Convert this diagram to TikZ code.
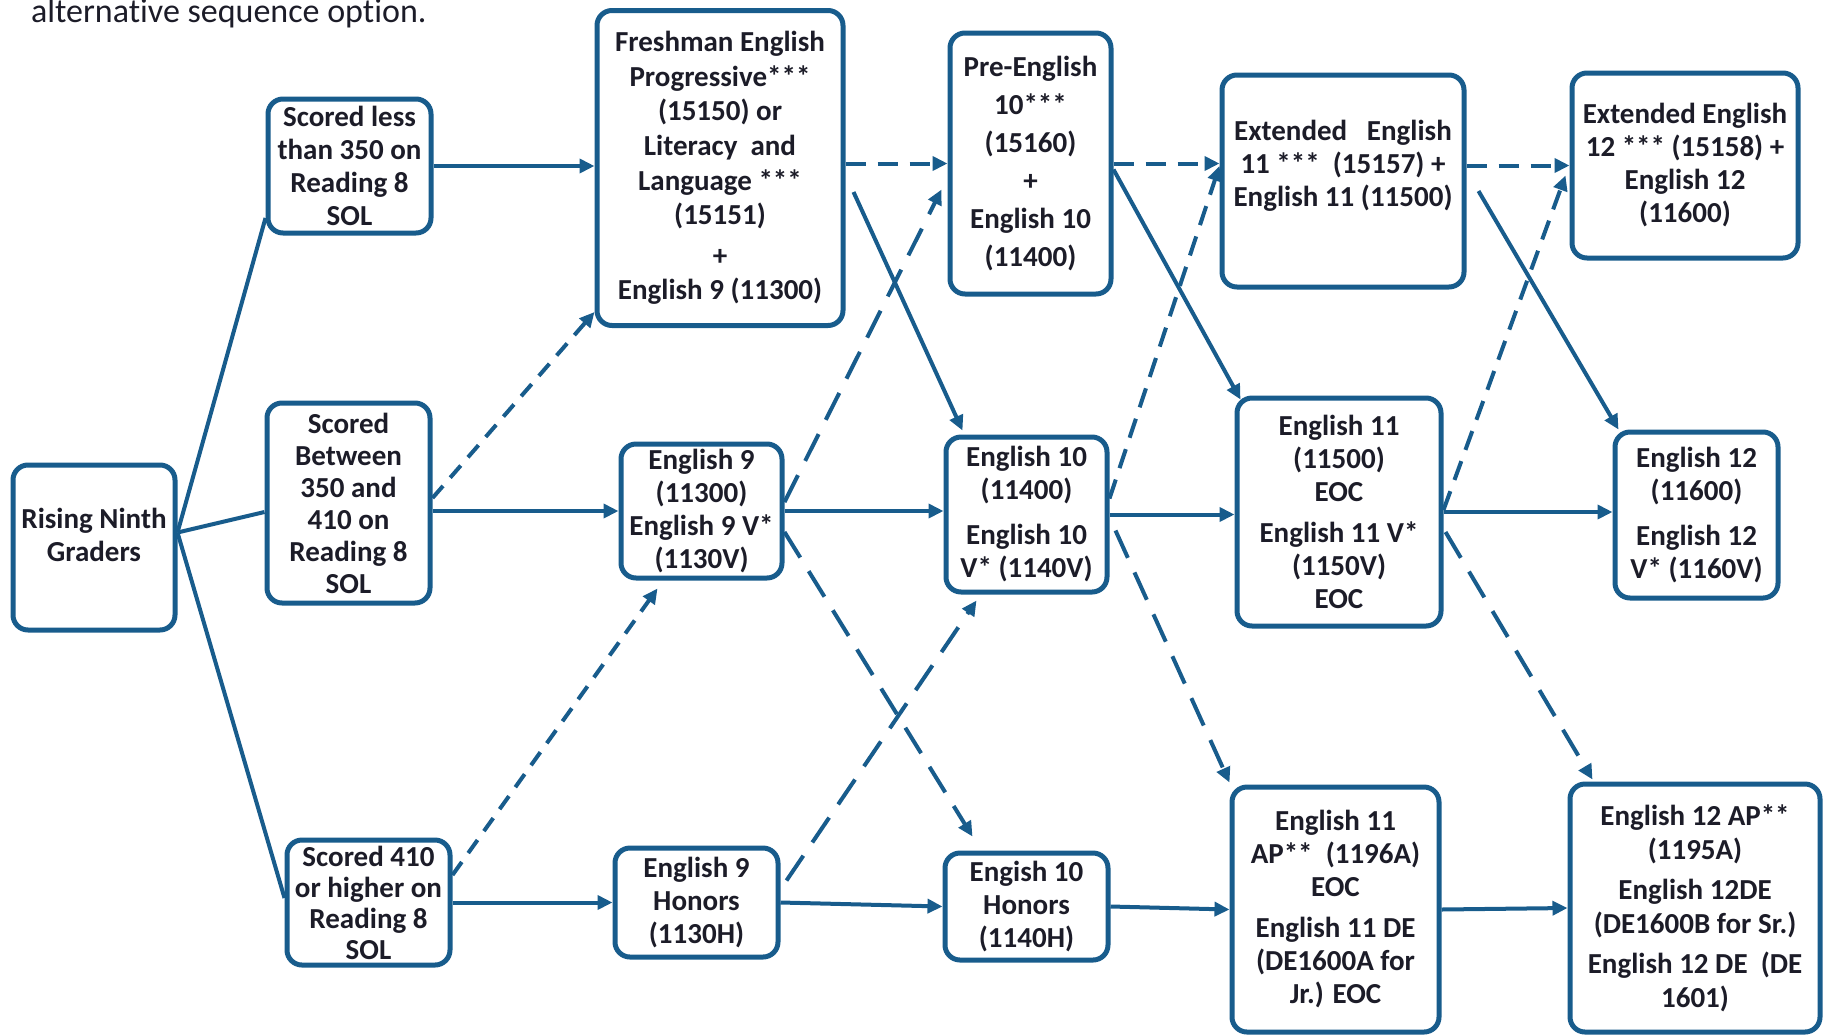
\documentclass[tikz,border=0pt]{standalone}
\usepackage{fontspec}
\setmainfont{Carlito}[Ligatures=NoCommon]
\usetikzlibrary{arrows.meta}
\definecolor{lineblue}{RGB}{24,92,140}
\definecolor{txt}{RGB}{28,28,40}
\begin{document}
\begin{tikzpicture}[x=0.5pt,y=-0.5pt,
  box/.style={draw=lineblue, line width=2.5pt, rounded corners=7.5pt, fill=white,
    align=center, font=\bfseries\fontsize{14.5}{16.5}\selectfont, text=txt, inner sep=1pt},
  boxtext/.style={align=center, font=\bfseries\fontsize{14.5}{16.5}\selectfont, text=txt, inner sep=0pt},
  conn/.style={draw=lineblue, line width=2pt},
  arr/.style={conn, -{Triangle[length=7.5pt,width=7pt]}},
  ldarr/.style={arr, dash pattern=on 15pt off 8pt},
  darr/.style={arr, dash pattern=on 10pt off 6pt},
  sdarr/.style={arr, dash pattern=on 8pt off 5.5pt},
]
\useasboundingbox (0,0) rectangle (1827,1035);

\node[anchor=base west, text=txt, font=\fontsize{17}{20}\selectfont] (head) at (24,22) {alternative sequence option.};

% column 0
\node[box, minimum width=81pt, minimum height=82.5pt] (rng) at (94,547.5) {};
\node[boxtext] (rngt) at (94,535) {Rising Ninth\\Graders};
% column 1
\node[box, minimum width=81.5pt, minimum height=67pt] (s1) at (349.5,166) {Scored less\\than 350 on\\Reading 8\\SOL};
\node[box, minimum width=81.5pt, minimum height=100pt, inner sep=0pt, font=\bfseries\fontsize{14.5}{16}\selectfont] (s2) at (348.5,503) {Scored\\Between\\350 and\\410 on\\Reading 8\\SOL};
\node[box, minimum width=81.5pt, minimum height=62.5pt, inner sep=0pt, font=\bfseries\fontsize{14.5}{15.5}\selectfont] (s3) at (368.5,902.5) {Scored 410\\or higher on\\Reading 8\\SOL};
% column 2
\node[box, minimum width=123pt, minimum height=157.5pt, font=\bfseries\fontsize{14.5}{17.3}\selectfont] (fe) at (720,168) {Freshman English\\Progressive***\\(15150) or\\Literacy\ \ and\\Language ***\\(15151)\\[3pt]+\\English 9 (11300)};
\node[box, minimum width=80.5pt, minimum height=67pt] (e9) at (701.5,511) {English 9\\(11300)\\English 9 V*\\(1130V)};
\node[box, minimum width=81.5pt, minimum height=54.5pt] (e9h) at (696.5,902.5) {English 9\\Honors\\(1130H)};
% column 3
\node[box, minimum width=80.5pt, minimum height=130.5pt, font=\bfseries\fontsize{14.5}{19}\selectfont] (pe) at (1030.5,163.5) {Pre-English\\10***\\(15160)\\+\\English 10\\(11400)};
\node[box, minimum width=80.5pt, minimum height=77.5pt] (e10) at (1026.5,514.5) {English 10\\(11400)\\[6pt]English 10\\V* (1140V)};
\node[box, minimum width=81.5pt, minimum height=53.5pt] (e10h) at (1026.5,906.5) {Engish 10\\Honors\\(1140H)};
% column 4
\node[box, minimum width=121pt, minimum height=106pt] (ee11) at (1343,181) {};
\node[boxtext] (ee11t) at (1343,166) {Extended\ \ \ English\\11 ***\ \ (15157) +\\English 11 (11500)};
\node[box, minimum width=102pt, minimum height=114pt] (e11) at (1339,512) {English 11\\(11500)\\EOC\\[4pt]English 11 V*\\(1150V)\\EOC};
\node[box, minimum width=103.5pt, minimum height=122.5pt] (e11ap) at (1335.5,909.5) {English 11\\AP**\ \ (1196A)\\EOC\\[4pt]English 11 DE\\(DE1600A for\\Jr.) EOC};
% column 5
\node[box, minimum width=113pt, minimum height=92.5pt] (ee12) at (1685,165.5) {Extended English\\12 *** (15158) +\\English 12\\(11600)};
\node[box, minimum width=81.5pt, minimum height=83pt] (e12) at (1696.5,515) {English 12\\(11600)\\[6pt]English 12\\V* (1160V)};
\node[box, minimum width=125pt, minimum height=124pt, font=\bfseries\fontsize{14.5}{17}\selectfont] (e12ap) at (1695,908) {English 12 AP**\\(1195A)\\[3pt]English 12DE\\(DE1600B for Sr.)\\[3pt]English 12 DE\ \ (DE\\1601)};

% plain lines from rising ninth graders
\coordinate (hub) at ([yshift=7.5pt]rng.east);
\draw[conn] (hub) -- ([yshift=-26pt]s1.west);
\draw[conn] (hub) -- ([yshift=-4.5pt]s2.west);
\draw[conn] (hub) -- ([yshift=2.25pt]s3.west);

% horizontal solid arrows
\draw[arr] (s1.east) -- (fe.west |- s1.east);
\draw[arr] (s2.east |- e9.west) -- (e9.west);
\draw[arr] (s3.east) -- (e9h.west);
\draw[arr] (e9.east) -- (e10.west |- e9.east);
\draw[arr] (e9h.east) -- (e10h.west);
\draw[arr] (e10.east) -- (e11.west |- e10.east);
\draw[arr] (e10h.east) -- (e11ap.west);
\draw[arr] (e11.east) -- (e12.west |- e11.east);
\draw[arr] (e11ap.east) -- (e12ap.west);

% horizontal dashed arrows
\draw[darr] (fe.east |- pe.west) -- (pe.west);
\draw[darr] (pe.east) -- (ee11.west |- pe.east);
\draw[darr] (ee11.east |- ee12.west) -- (ee12.west);

% diagonal solid arrows
\draw[arr] ([xshift=4pt,yshift=-12pt]fe.east) -- ([xshift=-32pt,yshift=2pt]e10.north);
\draw[arr] ([yshift=-3pt]pe.east) -- ([xshift=3pt,yshift=-2pt]e11.north west);
\draw[arr] ([xshift=6pt,yshift=-5pt]ee11.east) -- ([xshift=3pt]e12.north west);

% diagonal dashed arrows
\draw[sdarr] ([yshift=2.5pt]s2.east) -- ([yshift=8pt]fe.south west);
\draw[sdarr] ([yshift=13.75pt]s3.east) -- ([xshift=-22pt,yshift=-4pt]e9.south);
\draw[ldarr] ([yshift=4.5pt]e9.east) -- ([xshift=-3pt,yshift=-13pt]pe.west);
\draw[ldarr] ([yshift=-10.5pt]e9.east) -- ([xshift=-27pt,yshift=7pt]e10h.north);
\draw[ldarr] ([xshift=3pt,yshift=11pt]e9h.east) -- ([xshift=-25pt,yshift=-3pt]e10.south);
\draw[darr] ([yshift=8pt]e10.east) -- (ee11.west |- ee11t.west);
\draw[ldarr] ([xshift=3pt,yshift=-8pt]e10.east) -- ([yshift=1pt]e11ap.north west);
\draw[darr] ([yshift=1pt]e11.east) -- ([xshift=-2pt,yshift=-5pt]ee12.west);
\draw[ldarr] ([xshift=1pt,yshift=-10pt]e11.east) -- ([xshift=12.5pt,yshift=1pt]e12ap.north west);
\end{tikzpicture}
\end{document}
